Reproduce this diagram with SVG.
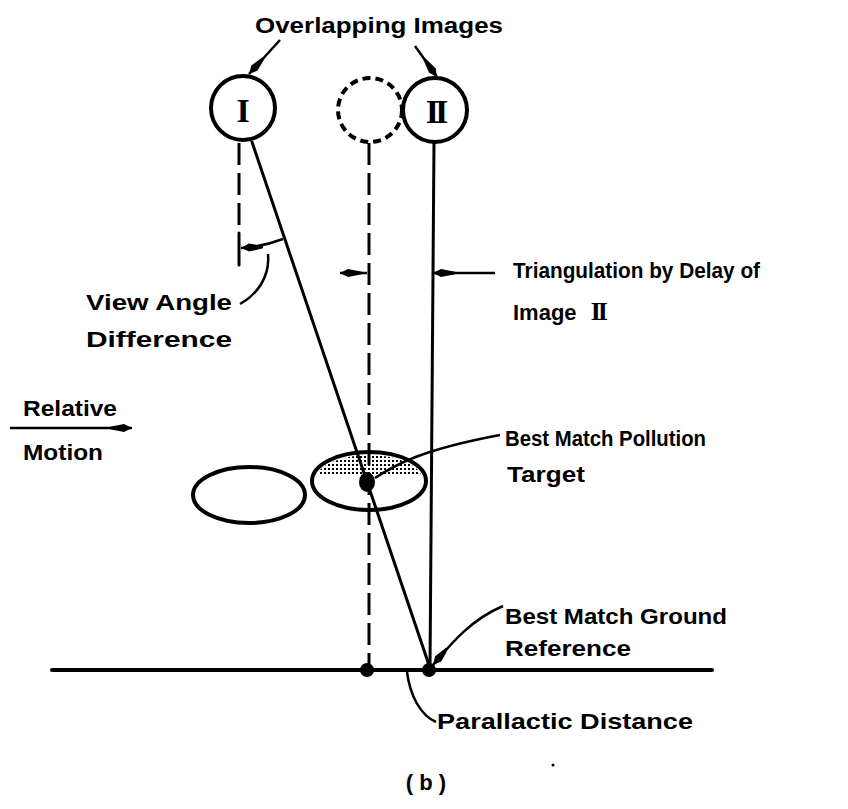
<svg xmlns="http://www.w3.org/2000/svg" width="848" height="809" viewBox="0 0 848 809">
<style>
.ln{fill:none;stroke:#000;stroke-width:3;stroke-linecap:round}
.dash{fill:none;stroke:#000;stroke-width:3;stroke-dasharray:22 8}
.circ{fill:none;stroke:#000;stroke-width:4}
.lbl{font-family:"Liberation Sans",Arial,sans-serif;font-weight:bold;font-size:22px;fill:#000}
.rom{font-family:"Liberation Serif","Times New Roman",serif;font-weight:bold;fill:#000}
.lead{fill:none;stroke:#000;stroke-width:2.5}
</style>
<defs>
<marker id="ah" viewBox="0 0 22 10" refX="22" refY="5" markerWidth="22" markerHeight="10" markerUnits="userSpaceOnUse" orient="auto-start-reverse">
<path d="M22,5 L14,1 L0,3.8 L0,6.2 L14,9 Z" fill="#000"/>
</marker>
<pattern id="stip" width="4" height="4" patternUnits="userSpaceOnUse"><rect width="2" height="2" fill="#000"/></pattern>
<clipPath id="ellclip"><ellipse cx="369" cy="481" rx="54" ry="26"/></clipPath>
</defs>

<g id="connectors">
<line class="dash" x1="239" y1="143" x2="239" y2="231"/>
<line class="ln" x1="239" y1="233" x2="239" y2="265"/>
<line class="dash" x1="369" y1="143" x2="369" y2="668"/>
<line class="ln" x1="252" y1="142" x2="430" y2="668"/>
<line class="ln" x1="434" y1="142" x2="430" y2="668"/>
<line class="ln" x1="52" y1="670" x2="712" y2="670" style="stroke-width:4"/>
<path class="lead" d="M249 74 L280 40" marker-start="url(#ah)"/>
<path class="lead" d="M437 77 L415 46" marker-start="url(#ah)"/>
<path class="lead" d="M241 248 Q262 247 283 239" marker-start="url(#ah)"/>
<path class="lead" d="M268 254 C270 276 258 294 240 304"/>
<path class="lead" d="M367 273 L340 273" marker-end="url(#ah)"/>
<path class="lead" d="M433 273 L495 273" marker-start="url(#ah)"/>
<path class="lead" d="M10 428 L132 428" marker-end="url(#ah)"/>
<path class="lead" d="M375 478 C395 465 420 450 500 435"/>
<path class="lead" d="M433 665 C450 645 470 620 503 606" marker-start="url(#ah)"/>
<path class="lead" d="M407 672 C410 695 420 715 436 722"/>
</g>

<g id="imageI">
<circle class="circ" cx="243" cy="108" r="32"/>
<text class="rom" x="243" y="122" font-size="34" text-anchor="middle">I</text>
</g>
<g id="imageGhost">
<circle class="circ" cx="370" cy="110" r="32" style="stroke-dasharray:8 5"/>
</g>
<g id="imageII">
<circle class="circ" cx="435" cy="110" r="32"/>
<text class="rom" x="435" y="123" font-size="34" text-anchor="middle" letter-spacing="-4">II</text>
</g>

<g id="cloud1">
<ellipse cx="249" cy="495" rx="56" ry="28" fill="none" stroke="#000" stroke-width="4"/>
</g>
<g id="cloud2">
<rect x="318" y="455" width="104" height="21" fill="url(#stip)" clip-path="url(#ellclip)"/>
<ellipse cx="369" cy="481" rx="57" ry="29" fill="none" stroke="#000" stroke-width="4"/>
<ellipse cx="367" cy="482" rx="8" ry="10" fill="#000"/>
</g>

<g id="groundPoints">
<circle cx="367" cy="670" r="7" fill="#000"/>
<circle cx="429" cy="670" r="7" fill="#000"/>
</g>

<g id="labels">
<text class="lbl" x="255" y="33" textLength="248" lengthAdjust="spacingAndGlyphs">Overlapping Images</text>
<text class="lbl" x="513" y="278" textLength="247" lengthAdjust="spacingAndGlyphs">Triangulation by Delay of</text>
<text class="lbl" x="513" y="320">Image <tspan class="rom" font-size="26" dx="8" letter-spacing="-3">II</tspan></text>
<text class="lbl" x="86" y="310" textLength="146" lengthAdjust="spacingAndGlyphs">View Angle</text>
<text class="lbl" x="86" y="347" textLength="146" lengthAdjust="spacingAndGlyphs">Difference</text>
<text class="lbl" x="23" y="416" textLength="94" lengthAdjust="spacingAndGlyphs">Relative</text>
<text class="lbl" x="23" y="460" textLength="80" lengthAdjust="spacingAndGlyphs">Motion</text>
<text class="lbl" x="505" y="446" textLength="201" lengthAdjust="spacingAndGlyphs">Best Match Pollution</text>
<text class="lbl" x="507" y="482" textLength="78" lengthAdjust="spacingAndGlyphs">Target</text>
<text class="lbl" x="505" y="624" textLength="222" lengthAdjust="spacingAndGlyphs">Best Match Ground</text>
<text class="lbl" x="505" y="656" textLength="126" lengthAdjust="spacingAndGlyphs">Reference</text>
<text class="lbl" x="437" y="729" textLength="256" lengthAdjust="spacingAndGlyphs">Parallactic Distance</text>
<text class="lbl" x="426" y="790" text-anchor="middle">( b )</text>
<circle cx="553" cy="765" r="1.5" fill="#000"/>
</g>
</svg>
